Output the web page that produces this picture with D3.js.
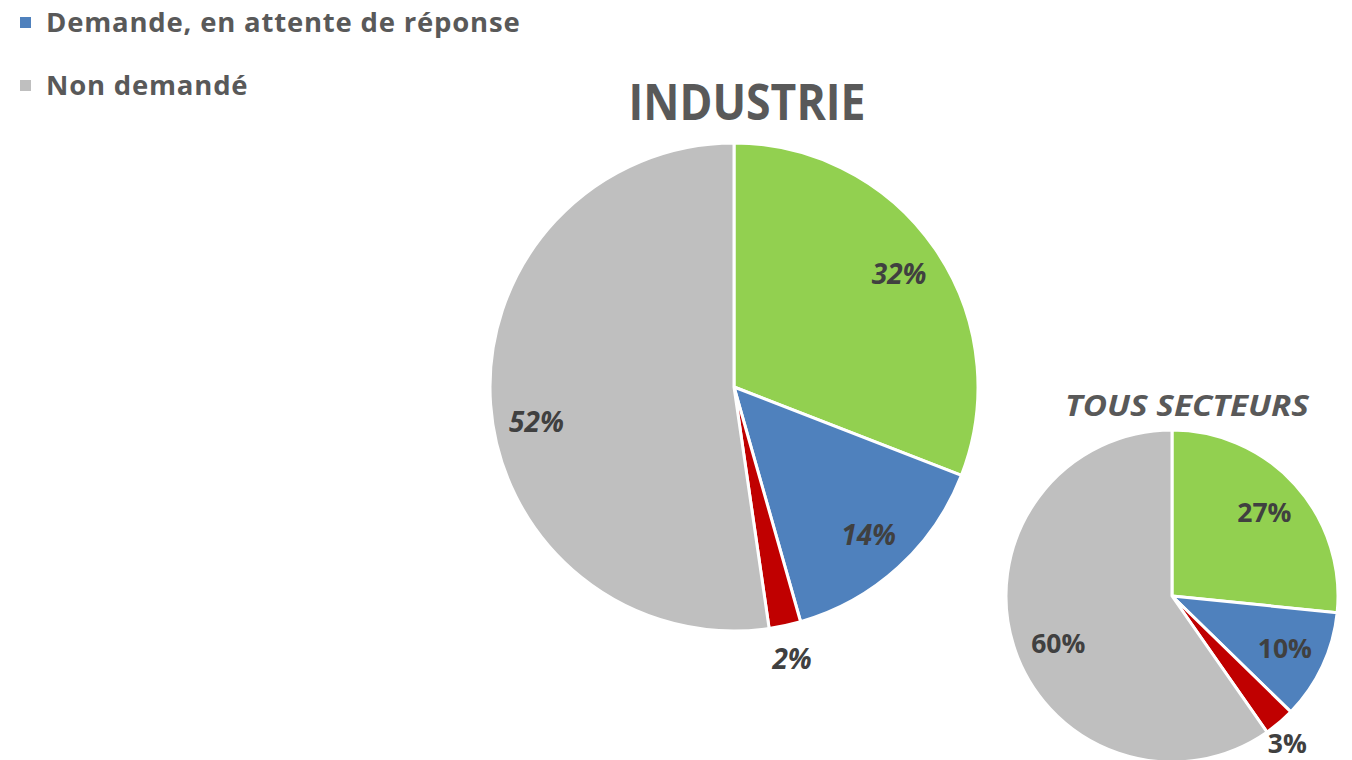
<!DOCTYPE html>
<meta charset="utf-8">
<style>
body { margin: 0; background: #fff; }
svg { display: block; font-family: "Open Sans", sans-serif; }
</style>
<body>
<script src="https://d3js.org/d3.v7.min.js"></script>
<script>
'use strict';

// slice order, clockwise from 12 o'clock
const colors = ["#92D050", "#4F81BD", "#C00000", "#BFBFBF"];

// shares, with the labels shown on the slices
const industrieValues = [30.9, 14.7, 2.1, 52.3];
const industrieLabels = ["32%", "14%", "2%", "52%"];
const tousValues = [26.6, 10.7, 3.0, 59.7];
const tousLabels = ["27%", "10%", "3%", "60%"];

// only the lower part of the legend is visible
const legendLabels = ["Demande, en attente de réponse", "Non demandé"];
const legendColors = ["#4F81BD", "#BFBFBF"];

const width = 1352, height = 760;

const svg = d3.select("body").append("svg")
    .attr("width", width)
    .attr("height", height);

// legend
const legend = svg.append("g").attr("transform", "translate(20,0)");
const item = legend.selectAll("g")
    .data(legendLabels)
  .enter().append("g")
    .attr("transform", (d, i) => "translate(0," + (32 + i * 63) + ")");
item.append("rect")
    .attr("x", 0).attr("y", -15)
    .attr("width", 11).attr("height", 11)
    .attr("fill", (d, i) => legendColors[i]);
item.append("text")
    .attr("x", 26)
    .attr("font-size", 27.5)
    .attr("font-weight", 700)
    .attr("letter-spacing", 0.8)
    .attr("fill", "#595959")
    .text(d => d);

function drawPie(opts) {
  const pie = d3.pie().sort(null).value(d => d);
  const arcs = pie(opts.values);
  const arc = d3.arc().innerRadius(0).outerRadius(opts.r);
  const inner = d3.arc().innerRadius(opts.r * opts.k).outerRadius(opts.r * opts.k);
  const outer = d3.arc().innerRadius(opts.r * opts.kOut).outerRadius(opts.r * opts.kOut);

  const g = svg.append("g")
      .attr("transform", "translate(" + opts.cx + "," + opts.cy + ")");

  g.selectAll("path")
      .data(arcs)
    .enter().append("path")
      .attr("d", arc)
      .attr("fill", (d, i) => colors[i])
      .attr("stroke", "#fff")
      .attr("stroke-width", 3)
      .attr("stroke-linejoin", "round");

  g.selectAll("text.lbl")
      .data(arcs)
    .enter().append("text")
      .attr("class", "lbl")
      .attr("transform", (d, i) => {
        const c = (opts.outside.includes(i) ? outer : inner).centroid(d);
        const n = opts.nudge[i] || [0, 0];
        return "translate(" + (c[0] + n[0]) + "," + (c[1] + n[1]) + ")";
      })
      .attr("text-anchor", "middle")
      .attr("dy", "0.36em")
      .attr("font-size", opts.labelSize)
      .attr("font-weight", 700)
      .attr("font-style", opts.italic ? "italic" : "normal")
      .attr("fill", "#404040")
      .text((d, i) => opts.labels[i]);

  svg.append("text")
      .attr("x", opts.titleX)
      .attr("y", opts.titleY)
      .attr("text-anchor", "middle")
      .attr("font-size", opts.titleSize)
      .attr("font-weight", 700)
      .attr("font-style", opts.italic ? "normal" : "italic")
      .attr("fill", "#595959")
      .attr("textLength", opts.titleLen)
      .attr("lengthAdjust", "spacingAndGlyphs")
      .text(opts.title);
}

drawPie({
  values: industrieValues, labels: industrieLabels,
  cx: 734, cy: 387, r: 244, k: 0.82, kOut: 1.14, outside: [2],
  nudge: {3: [2, 20]},
  labelSize: 28, italic: true,
  title: "INDUSTRIE", titleX: 747, titleY: 120, titleSize: 50, titleLen: 237
});

drawPie({
  values: tousValues, labels: tousLabels,
  cx: 1172, cy: 596, r: 166, k: 0.75, kOut: 1.12, outside: [2],
  nudge: {2: [-5, 6], 3: [5, 10]},
  labelSize: 26.5, italic: false,
  title: "TOUS SECTEURS", titleX: 1187, titleY: 416, titleSize: 28, titleLen: 244
});
</script>
</body>
